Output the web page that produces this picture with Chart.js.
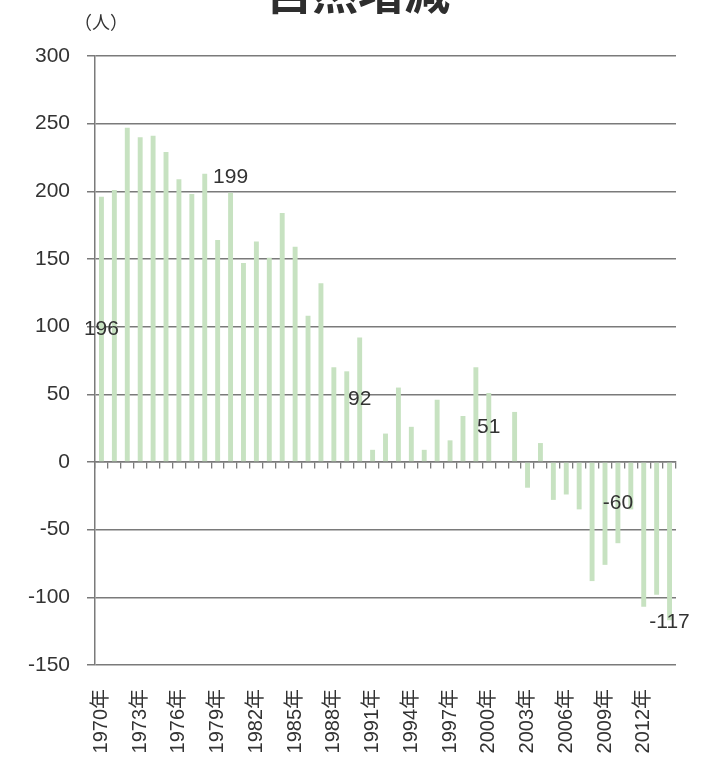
<!DOCTYPE html>
<html>
<head>
<meta charset="utf-8">
<script src="https://cdn.jsdelivr.net/npm/chart.js@4/dist/chart.umd.min.js"></script>
<style>
  html, body { margin: 0; padding: 0; background: #ffffff; }
  #wrap { width: 704px; height: 766px; position: relative; overflow: hidden; }
  canvas { display: block; }
</style>
</head>
<body>
<div id="wrap"><canvas id="chart" width="704" height="766"></canvas></div>
<script>
// 自然増減（出生数 − 死亡数）, 1970–2014年
const years = [
  1970, 1971, 1972, 1973, 1974, 1975, 1976, 1977, 1978, 1979,
  1980, 1981, 1982, 1983, 1984, 1985, 1986, 1987, 1988, 1989,
  1990, 1991, 1992, 1993, 1994, 1995, 1996, 1997, 1998, 1999,
  2000, 2001, 2002, 2003, 2004, 2005, 2006, 2007, 2008, 2009,
  2010, 2011, 2012, 2013, 2014
];
const naturalChange = [
  196, 201, 247, 240, 241, 229, 209, 198, 213, 164,
  199, 147, 163, 151, 184, 159, 108, 132, 70, 67,
  92, 9, 21, 55, 26, 9, 46, 16, 34, 70,
  51, 0, 37, -19, 14, -28, -24, -35, -88, -76,
  -60, -35, -107, -98, -117
];
const categoryLabels = years.map(y => y + '年');
const shownYearLabels = [
  '1970年', '1973年', '1976年', '1979年', '1982年', '1985年', '1988年', '1991年',
  '1994年', '1997年', '2000年', '2003年', '2006年', '2009年', '2012年'
];
const yTickValues = [-150, -100, -50, 0, 50, 100, 150, 200, 250, 300];
const labeledYears = [1970, 1980, 1990, 2000, 2010, 2014];

const chartTitle = '自然増減';
const unitLabel = '（人）';

// where each value label sits relative to its bar
const labelPlacement = { 1970: 'center', 1980: 'end', 1990: 'center', 2000: 'center', 2010: 'center', 2014: 'end' };

const GRID = '#7a7a7a';
const TEXT = '#333333';
const LATIN = '"Liberation Sans", "Noto Sans CJK JP", sans-serif';

const annotate = {
  id: 'annotate',
  afterDatasetsDraw(chart) {
    const { ctx } = chart;
    const meta = chart.getDatasetMeta(0);
    ctx.save();
    ctx.fillStyle = TEXT;
    ctx.font = '21px ' + LATIN;
    ctx.textAlign = 'center';
    ctx.textBaseline = 'middle';
    labeledYears.forEach(yr => {
      const i = years.indexOf(yr);
      const bar = meta.data[i];
      const v = naturalChange[i];
      let y;
      if (labelPlacement[yr] === 'end') {
        y = v >= 0 ? bar.y - 15 : bar.y + 2;
      } else {
        y = (bar.y + bar.base) / 2;
      }
      ctx.fillText(String(v), bar.x, y);
    });
    ctx.restore();
  },
  afterDraw(chart) {
    const { ctx, chartArea } = chart;
    ctx.save();
    ctx.fillStyle = '#2e2e2e';
    ctx.textAlign = 'center';
    ctx.textBaseline = 'ideographic';
    ctx.font = 'bold 46px "Noto Sans CJK JP", sans-serif';
    ctx.fillText(chartTitle, 358, 15);
    ctx.fillStyle = TEXT;
    ctx.textBaseline = 'middle';
    ctx.font = '18px "Noto Sans CJK JP", sans-serif';
    ctx.fillText(unitLabel, chartArea.left + 6, 22);
    ctx.restore();
  }
};

new Chart(document.getElementById('chart'), {
  type: 'bar',
  data: {
    labels: categoryLabels,
    datasets: [{
      data: naturalChange,
      xAxisID: 'x',
      yAxisID: 'y',
      backgroundColor: '#c7e2c1',
      borderWidth: 0,
      barPercentage: 0.38,
      categoryPercentage: 1
    }]
  },
  options: {
    responsive: false,
    animation: false,
    layout: { padding: { top: 56, right: 28, left: 0, bottom: 0 } },
    plugins: {
      legend: { display: false },
      title: { display: false },
      tooltip: { enabled: false }
    },
    scales: {
      x: {
        type: 'category',
        position: 'bottom',
        offset: true,
        grid: { display: false, drawTicks: false },
        border: { display: false },
        ticks: {
          autoSkip: false,
          minRotation: 90,
          maxRotation: 90,
          padding: 24,
          color: TEXT,
          font: { family: LATIN, size: 20 },
          callback(value) {
            const lbl = this.getLabelForValue(value);
            return shownYearLabels.includes(lbl) ? lbl : '';
          }
        },
        afterFit(scale) {
          scale.height = 101;
          scale.paddingLeft = 0;
          scale.paddingRight = 0;
        }
      },
      xZero: {
        type: 'category',
        position: { y: 0 },
        offset: true,
        z: 1,
        grid: { offset: true, drawOnChartArea: false, tickLength: 6, color: GRID, lineWidth: 1.3 },
        border: { display: true, color: GRID, width: 1.5 },
        ticks: { display: false },
        afterFit(scale) {
          scale.height = 0;
          scale.paddingLeft = 0;
          scale.paddingRight = 0;
        }
      },
      y: {
        min: -150,
        max: 300,
        afterBuildTicks(scale) { scale.ticks = yTickValues.map(v => ({ value: v })); },
        grid: { color: GRID, lineWidth: 1.5, tickLength: 8 },
        border: { display: true, color: GRID, width: 1.5 },
        ticks: {
          padding: 17,
          color: TEXT,
          font: { family: LATIN, size: 21 }
        },
        afterFit(scale) { scale.width = 95; }
      }
    }
  },
  plugins: [annotate]
});
</script>
</body>
</html>
